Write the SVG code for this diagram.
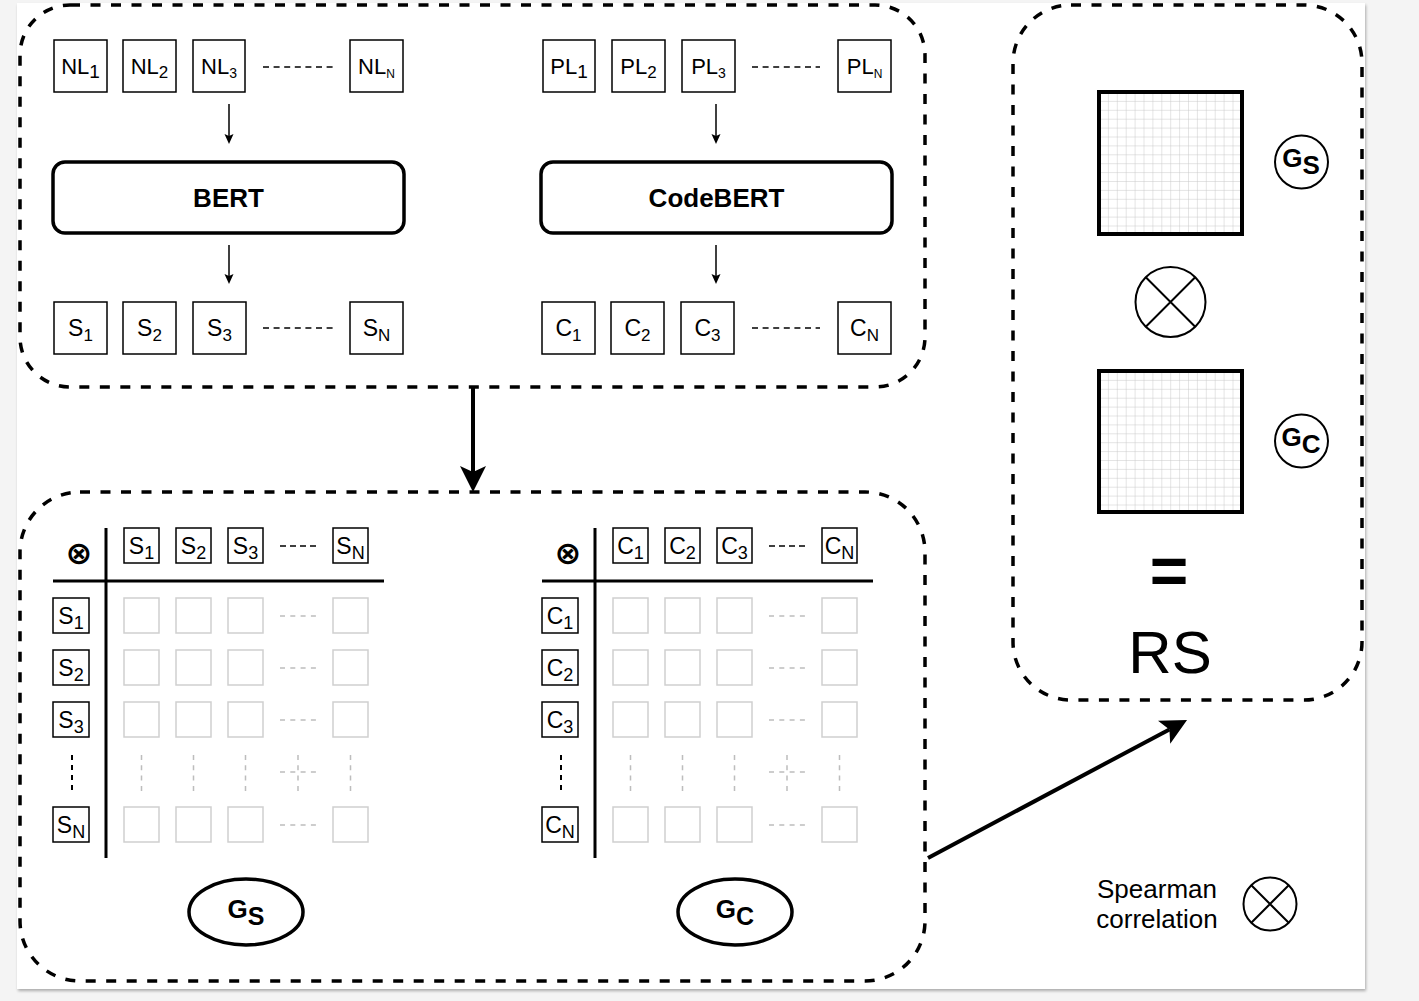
<svg xmlns="http://www.w3.org/2000/svg" width="1419" height="1001" viewBox="0 0 1419 1001">
<defs>
<style>
.t{font-family:"Liberation Sans",Arial,Helvetica,sans-serif;fill:#000}
.tb{font-family:"Liberation Sans",Arial,Helvetica,sans-serif;fill:#000;font-weight:bold}
.sym{font-family:"DejaVu Sans",sans-serif;font-weight:bold;fill:#000}
.b{fill:#fff;stroke:#000;stroke-width:1.5}
.g{fill:#fff;stroke:#cfcfcf;stroke-width:1.5}
.panel{fill:none;stroke:#000;stroke-width:3.5;stroke-dasharray:10 10.5}
.model{fill:#fff;stroke:#000;stroke-width:3.5}
.dash{stroke:#000;stroke-width:1.5;stroke-dasharray:6 4.6;fill:none}
.hdash{stroke:#000;stroke-width:1.5;stroke-dasharray:6 4;fill:none}
.gdash{stroke:#bdbdbd;stroke-width:1.5;stroke-dasharray:5 5.3;fill:none}
.axis{stroke:#000;stroke-width:3;fill:none}
.arrow{stroke:#000;stroke-width:4;fill:none}
.sarrow{stroke:#000;stroke-width:1.5;fill:none}
.circ{fill:#fff;stroke:#000;stroke-width:2}
.big{fill:url(#grid1);stroke:#000;stroke-width:4}
</style>
<pattern id="grid1" patternUnits="userSpaceOnUse" x="1099" y="92" width="8.9" height="8.9">
<path d="M8.9 0H0V8.9" fill="none" stroke="#c9c9c9" stroke-width="1"/>
</pattern>
<pattern id="grid2" patternUnits="userSpaceOnUse" x="1099" y="371" width="8.9" height="8.9">
<path d="M8.9 0H0V8.9" fill="none" stroke="#c9c9c9" stroke-width="1"/>
</pattern>
<marker id="ah" markerUnits="userSpaceOnUse" markerWidth="26" markerHeight="28" refX="6" refY="13" orient="auto" viewBox="0 0 26 26">
<path d="M0 0L26 13L0 26L6 13Z" fill="#000"/>
</marker>
<marker id="sah" markerUnits="userSpaceOnUse" markerWidth="11" markerHeight="10" refX="2" refY="4.5" orient="auto" viewBox="0 0 11 9">
<path d="M0 0L10 4.5L0 9L2 4.5Z" fill="#000"/>
</marker>
<filter id="sh" x="-2%" y="-2%" width="104%" height="104%">
<feGaussianBlur in="SourceAlpha" stdDeviation="1.5"/>
<feOffset dx="0.5" dy="1.5"/>
<feComponentTransfer><feFuncA type="linear" slope="0.3"/></feComponentTransfer>
<feMerge><feMergeNode/><feMergeNode in="SourceGraphic"/></feMerge>
</filter>
</defs>

<rect x="0" y="0" width="1419" height="1001" fill="#f4f4f4"/>
<rect x="17" y="3" width="1348" height="986" fill="#fff" filter="url(#sh)"/>

<!-- panels -->
<g id="panel-encode">
<rect class="panel" x="20" y="5" width="905" height="382" rx="50" ry="50"/>
</g>
<g id="panel-matrices">
<rect class="panel" x="20" y="492" width="905" height="489" rx="60" ry="60"/>
</g>
<g id="panel-result">
<rect class="panel" x="1013" y="5" width="349" height="695" rx="58" ry="58"/>
</g>

<!-- NL inputs -->
<g id="nl-inputs">
<rect class="b" x="54" y="40" width="53" height="52"/>
<text class="t" x="80.5" y="74" font-size="22" text-anchor="middle">NL<tspan font-size="19" dy="4">1</tspan></text>
<rect class="b" x="123" y="40" width="53" height="52"/>
<text class="t" x="149.5" y="74" font-size="22" text-anchor="middle">NL<tspan font-size="17" dy="4">2</tspan></text>
<rect class="b" x="193" y="40" width="52" height="52"/>
<text class="t" x="219" y="74" font-size="22" text-anchor="middle">NL<tspan font-size="14" dy="4">3</tspan></text>
<line class="dash" x1="263" y1="67" x2="333" y2="67"/>
<rect class="b" x="350" y="40" width="53" height="52"/>
<text class="t" x="376.5" y="74" font-size="22" text-anchor="middle">NL<tspan font-size="12" dy="4">N</tspan></text>
</g>

<!-- PL inputs -->
<g id="pl-inputs">
<rect class="b" x="543" y="40" width="52" height="52"/>
<text class="t" x="569" y="74" font-size="22" text-anchor="middle">PL<tspan font-size="19" dy="4">1</tspan></text>
<rect class="b" x="612" y="40" width="53" height="52"/>
<text class="t" x="638.5" y="74" font-size="22" text-anchor="middle">PL<tspan font-size="17" dy="4">2</tspan></text>
<rect class="b" x="682" y="40" width="53" height="52"/>
<text class="t" x="708.5" y="74" font-size="22" text-anchor="middle">PL<tspan font-size="14" dy="4">3</tspan></text>
<line class="dash" x1="752" y1="67" x2="820" y2="67"/>
<rect class="b" x="838" y="40" width="53" height="52"/>
<text class="t" x="864.5" y="74" font-size="22" text-anchor="middle">PL<tspan font-size="12" dy="4">N</tspan></text>
</g>

<g id="bert">
<rect class="model" x="53" y="162" width="351" height="71" rx="12" ry="12"/>
<text class="tb" x="228.5" y="207" font-size="26" text-anchor="middle">BERT</text>
</g>
<g id="codebert">
<rect class="model" x="541" y="162" width="351" height="71" rx="12" ry="12"/>
<text class="tb" x="716.5" y="207" font-size="26" text-anchor="middle">CodeBERT</text>
</g>

<!-- S outputs -->
<g id="s-outputs">
<rect class="b" x="54" y="302" width="53" height="52"/>
<text class="t" x="80.5" y="336" font-size="23" text-anchor="middle">S<tspan font-size="17" dy="5">1</tspan></text>
<rect class="b" x="123" y="302" width="53" height="52"/>
<text class="t" x="149.5" y="336" font-size="23" text-anchor="middle">S<tspan font-size="17" dy="5">2</tspan></text>
<rect class="b" x="193" y="302" width="53" height="52"/>
<text class="t" x="219.5" y="336" font-size="23" text-anchor="middle">S<tspan font-size="17" dy="5">3</tspan></text>
<line class="dash" x1="263" y1="328" x2="333" y2="328"/>
<rect class="b" x="350" y="302" width="53" height="52"/>
<text class="t" x="376.5" y="336" font-size="23" text-anchor="middle">S<tspan font-size="17" dy="5">N</tspan></text>
</g>

<!-- C outputs -->
<g id="c-outputs">
<rect class="b" x="542" y="302" width="53" height="52"/>
<text class="t" x="568.5" y="336" font-size="23" text-anchor="middle">C<tspan font-size="17" dy="5">1</tspan></text>
<rect class="b" x="611" y="302" width="53" height="52"/>
<text class="t" x="637.5" y="336" font-size="23" text-anchor="middle">C<tspan font-size="17" dy="5">2</tspan></text>
<rect class="b" x="681" y="302" width="53" height="52"/>
<text class="t" x="707.5" y="336" font-size="23" text-anchor="middle">C<tspan font-size="17" dy="5">3</tspan></text>
<line class="dash" x1="752" y1="328" x2="820" y2="328"/>
<rect class="b" x="838" y="302" width="53" height="52"/>
<text class="t" x="864.5" y="336" font-size="23" text-anchor="middle">C<tspan font-size="17" dy="5">N</tspan></text>
</g>

<!-- Gs matrix -->
<g id="matrix-gs">
<text class="sym" x="79" y="564" font-size="32" text-anchor="middle">⊗</text>
<line class="axis" x1="106" y1="528" x2="106" y2="858"/>
<line class="axis" x1="53" y1="581" x2="384" y2="581"/>
<rect class="b" x="124" y="528" width="35" height="35"/>
<text class="t" x="141.5" y="554" font-size="23" text-anchor="middle">S<tspan font-size="18" dy="5">1</tspan></text>
<rect class="b" x="176" y="528" width="35" height="35"/>
<text class="t" x="193.5" y="554" font-size="23" text-anchor="middle">S<tspan font-size="18" dy="5">2</tspan></text>
<rect class="b" x="228" y="528" width="35" height="35"/>
<text class="t" x="245.5" y="554" font-size="23" text-anchor="middle">S<tspan font-size="18" dy="5">3</tspan></text>
<line class="hdash" x1="280" y1="546" x2="316" y2="546"/>
<rect class="b" x="333" y="528" width="35" height="35"/>
<text class="t" x="350.5" y="554" font-size="23" text-anchor="middle">S<tspan font-size="18" dy="5">N</tspan></text>

<rect class="b" x="53" y="598" width="36" height="35"/>
<text class="t" x="71" y="624" font-size="23" text-anchor="middle">S<tspan font-size="18" dy="5">1</tspan></text>
<rect class="b" x="53" y="650" width="36" height="35"/>
<text class="t" x="71" y="676" font-size="23" text-anchor="middle">S<tspan font-size="18" dy="5">2</tspan></text>
<rect class="b" x="53" y="702" width="36" height="35"/>
<text class="t" x="71" y="728" font-size="23" text-anchor="middle">S<tspan font-size="18" dy="5">3</tspan></text>
<line x1="72" y1="755" x2="72" y2="791" stroke="#000" stroke-width="2" stroke-dasharray="5 5"/>
<rect class="b" x="53" y="807" width="36" height="35"/>
<text class="t" x="71" y="833" font-size="23" text-anchor="middle">S<tspan font-size="18" dy="5">N</tspan></text>

<g>
<rect class="g" x="124" y="598" width="35" height="35"/><rect class="g" x="176" y="598" width="35" height="35"/><rect class="g" x="228" y="598" width="35" height="35"/><rect class="g" x="333" y="598" width="35" height="35"/>
<line class="gdash" x1="280" y1="616" x2="316" y2="616"/>
<rect class="g" x="124" y="650" width="35" height="35"/><rect class="g" x="176" y="650" width="35" height="35"/><rect class="g" x="228" y="650" width="35" height="35"/><rect class="g" x="333" y="650" width="35" height="35"/>
<line class="gdash" x1="280" y1="668" x2="316" y2="668"/>
<rect class="g" x="124" y="702" width="35" height="35"/><rect class="g" x="176" y="702" width="35" height="35"/><rect class="g" x="228" y="702" width="35" height="35"/><rect class="g" x="333" y="702" width="35" height="35"/>
<line class="gdash" x1="280" y1="720" x2="316" y2="720"/>
<line class="gdash" x1="141.5" y1="755" x2="141.5" y2="791"/><line class="gdash" x1="193.5" y1="755" x2="193.5" y2="791"/><line class="gdash" x1="245.5" y1="755" x2="245.5" y2="791"/><line class="gdash" x1="298" y1="755" x2="298" y2="791"/><line class="gdash" x1="350.5" y1="755" x2="350.5" y2="791"/>
<line class="gdash" x1="280" y1="772" x2="316" y2="772"/>
<rect class="g" x="124" y="807" width="35" height="35"/><rect class="g" x="176" y="807" width="35" height="35"/><rect class="g" x="228" y="807" width="35" height="35"/><rect class="g" x="333" y="807" width="35" height="35"/>
<line class="gdash" x1="280" y1="825" x2="316" y2="825"/>
</g>
<ellipse cx="246" cy="912" rx="57" ry="33" fill="#fff" stroke="#000" stroke-width="3.5"/>
<text class="tb" x="246" y="918" font-size="26" text-anchor="middle">G<tspan font-size="25" dy="7">S</tspan></text>
</g>

<!-- Gc matrix -->
<g id="matrix-gc">
<text class="sym" x="568" y="564" font-size="32" text-anchor="middle">⊗</text>
<line class="axis" x1="595" y1="528" x2="595" y2="858"/>
<line class="axis" x1="542" y1="581" x2="873" y2="581"/>
<rect class="b" x="613" y="528" width="35" height="35"/>
<text class="t" x="630.5" y="554" font-size="23" text-anchor="middle">C<tspan font-size="18" dy="5">1</tspan></text>
<rect class="b" x="665" y="528" width="35" height="35"/>
<text class="t" x="682.5" y="554" font-size="23" text-anchor="middle">C<tspan font-size="18" dy="5">2</tspan></text>
<rect class="b" x="717" y="528" width="35" height="35"/>
<text class="t" x="734.5" y="554" font-size="23" text-anchor="middle">C<tspan font-size="18" dy="5">3</tspan></text>
<line class="hdash" x1="769" y1="546" x2="805" y2="546"/>
<rect class="b" x="822" y="528" width="35" height="35"/>
<text class="t" x="839.5" y="554" font-size="23" text-anchor="middle">C<tspan font-size="18" dy="5">N</tspan></text>

<rect class="b" x="542" y="598" width="36" height="35"/>
<text class="t" x="560" y="624" font-size="23" text-anchor="middle">C<tspan font-size="18" dy="5">1</tspan></text>
<rect class="b" x="542" y="650" width="36" height="35"/>
<text class="t" x="560" y="676" font-size="23" text-anchor="middle">C<tspan font-size="18" dy="5">2</tspan></text>
<rect class="b" x="542" y="702" width="36" height="35"/>
<text class="t" x="560" y="728" font-size="23" text-anchor="middle">C<tspan font-size="18" dy="5">3</tspan></text>
<line x1="561" y1="755" x2="561" y2="791" stroke="#000" stroke-width="2" stroke-dasharray="5 5"/>
<rect class="b" x="542" y="807" width="36" height="35"/>
<text class="t" x="560" y="833" font-size="23" text-anchor="middle">C<tspan font-size="18" dy="5">N</tspan></text>

<g>
<rect class="g" x="613" y="598" width="35" height="35"/><rect class="g" x="665" y="598" width="35" height="35"/><rect class="g" x="717" y="598" width="35" height="35"/><rect class="g" x="822" y="598" width="35" height="35"/>
<line class="gdash" x1="769" y1="616" x2="805" y2="616"/>
<rect class="g" x="613" y="650" width="35" height="35"/><rect class="g" x="665" y="650" width="35" height="35"/><rect class="g" x="717" y="650" width="35" height="35"/><rect class="g" x="822" y="650" width="35" height="35"/>
<line class="gdash" x1="769" y1="668" x2="805" y2="668"/>
<rect class="g" x="613" y="702" width="35" height="35"/><rect class="g" x="665" y="702" width="35" height="35"/><rect class="g" x="717" y="702" width="35" height="35"/><rect class="g" x="822" y="702" width="35" height="35"/>
<line class="gdash" x1="769" y1="720" x2="805" y2="720"/>
<line class="gdash" x1="630.5" y1="755" x2="630.5" y2="791"/><line class="gdash" x1="682.5" y1="755" x2="682.5" y2="791"/><line class="gdash" x1="734.5" y1="755" x2="734.5" y2="791"/><line class="gdash" x1="787" y1="755" x2="787" y2="791"/><line class="gdash" x1="839.5" y1="755" x2="839.5" y2="791"/>
<line class="gdash" x1="769" y1="772" x2="805" y2="772"/>
<rect class="g" x="613" y="807" width="35" height="35"/><rect class="g" x="665" y="807" width="35" height="35"/><rect class="g" x="717" y="807" width="35" height="35"/><rect class="g" x="822" y="807" width="35" height="35"/>
<line class="gdash" x1="769" y1="825" x2="805" y2="825"/>
</g>
<ellipse cx="735" cy="912" rx="57" ry="33" fill="#fff" stroke="#000" stroke-width="3.5"/>
<text class="tb" x="735" y="918" font-size="26" text-anchor="middle">G<tspan font-size="25" dy="7">C</tspan></text>
</g>

<!-- result panel -->
<g id="gs-square">
<rect class="big" x="1099" y="92" width="143" height="142"/>
<circle class="circ" cx="1301.5" cy="162" r="26.5"/>
<text class="tb" x="1301" y="167" font-size="26" text-anchor="middle">G<tspan font-size="26" dy="7">S</tspan></text>
</g>
<g id="spearman-op">
<circle class="circ" cx="1170.5" cy="302" r="35"/>
<path d="M1145.8 277.3L1195.2 326.7M1195.2 277.3L1145.8 326.7" stroke="#000" stroke-width="2" fill="none"/>
</g>
<g id="gc-square">
<rect class="big" x="1099" y="371" width="143" height="141" style="fill:url(#grid2)"/>
<circle class="circ" cx="1301.5" cy="441" r="26.5"/>
<text class="tb" x="1301" y="446" font-size="26" text-anchor="middle">G<tspan font-size="26" dy="7">C</tspan></text>
</g>
<g id="rs">
<text class="tb" x="1169" y="594" font-size="66" text-anchor="middle">=</text>
<text class="t" x="1170" y="673" font-size="60" text-anchor="middle">RS</text>
</g>

<!-- legend -->
<g id="legend">
<text class="t" x="1157" y="898" font-size="26" text-anchor="middle">Spearman</text>
<text class="t" x="1157" y="928" font-size="26" text-anchor="middle">correlation</text>
<circle class="circ" cx="1270" cy="904" r="26.5"/>
<path d="M1251.3 885.3L1288.7 922.7M1288.7 885.3L1251.3 922.7" stroke="#000" stroke-width="2" fill="none"/>
</g>

<!-- connectors -->
<g id="connectors">
<line class="sarrow" x1="229" y1="104" x2="229" y2="136" marker-end="url(#sah)"/>
<line class="sarrow" x1="229" y1="245" x2="229" y2="276" marker-end="url(#sah)"/>
<line class="sarrow" x1="716" y1="104" x2="716" y2="136" marker-end="url(#sah)"/>
<line class="sarrow" x1="716" y1="245" x2="716" y2="276" marker-end="url(#sah)"/>
<line class="arrow" x1="473" y1="388" x2="473" y2="472" marker-end="url(#ah)"/>
<line class="arrow" x1="928" y1="858" x2="1169.4" y2="729.4" marker-end="url(#ah)"/>
</g>
</svg>
